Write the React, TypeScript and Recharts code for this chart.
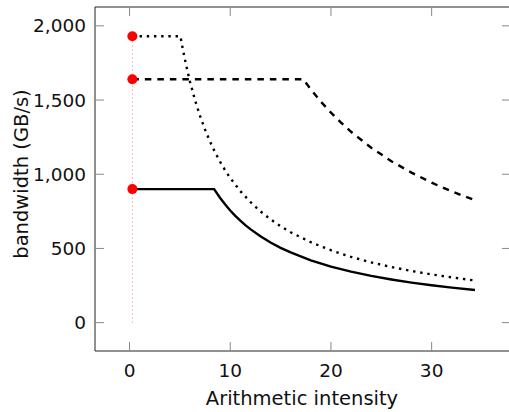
import { ComposedChart, Line, XAxis, YAxis, ReferenceArea } from "recharts";

// Roofline-style curves (x = arithmetic intensity, y = GB/s)
const solidX = [0.28, 8.4, 8.7, 9, 9.5, 10, 10.5, 11, 11.5, 12, 13, 14, 15, 16, 18, 20, 22, 24, 26, 28, 30, 32, 34.3];
const solidY = [900, 900, 869, 840, 796, 756, 720, 687, 657, 630, 582, 540, 504, 473, 420, 378, 344, 315, 291, 270, 252, 236, 220];

const dottedX = [0.28, 5.05, 5.3, 5.6, 6, 6.5, 7, 7.5, 8, 8.5, 9, 9.5, 10, 11, 12, 13, 14, 15, 16, 18, 20, 22, 24, 26, 28, 30, 32, 34.3];
const dottedY = [1930, 1930, 1840, 1741, 1625, 1500, 1393, 1300, 1219, 1147, 1083, 1026, 975, 886, 813, 750, 696, 650, 609, 542, 488, 443, 406, 375, 348, 325, 305, 284];

const dashedX = [0.28, 17.25, 17.6, 18, 18.5, 19, 20, 21, 22, 24, 26, 28, 30, 32, 34.3];
const dashedY = [1640, 1640, 1608, 1572, 1530, 1489, 1415, 1348, 1286, 1179, 1088, 1011, 943, 884, 825];

const peakX = 0.28;
const peakY = [900, 1640, 1930];

const xTicks = [0, 10, 20, 30];
const yTicks = [0, 500, 1000, 1500, 2000];
const X_DOMAIN = [-3.43, 37.88];
const Y_DOMAIN = [-191, 2127];

const PLOT_TOP = 7;
const PLOT_BOTTOM = 351;
const PLOT_LEFT = 95;
const PLOT_RIGHT = 511;
const TICK_LEN = 9;
const FONT = "'DejaVu Sans', sans-serif";
const TEXT = "#111";

const zip = (xs: number[], ys: number[]) => xs.map((x, i) => ({ x, y: ys[i] }));

const solid = zip(solidX, solidY);
const dotted = zip(dottedX, dottedY);
const dashed = zip(dashedX, dashedY);
const guide = [
  { x: peakX, y: 0 },
  { x: peakX, y: Math.max(...peakY) },
];
const peaks = peakY.map((y) => ({ x: peakX, y }));

function XTick({ x, payload }: any) {
  return (
    <g>
      <line x1={x} x2={x} y1={PLOT_BOTTOM} y2={PLOT_BOTTOM - TICK_LEN} stroke="#888" />
      <line x1={x} x2={x} y1={PLOT_TOP} y2={PLOT_TOP + TICK_LEN} stroke="#888" />
      <text x={x} y={PLOT_BOTTOM + 26} textAnchor="middle" fontFamily={FONT} fontSize={18.5} fill={TEXT}>
        {payload.value}
      </text>
    </g>
  );
}

function YTick({ y, payload }: any) {
  return (
    <g>
      <line x1={PLOT_LEFT} x2={PLOT_LEFT + TICK_LEN} y1={y} y2={y} stroke="#888" />
      <line x1={PLOT_RIGHT - TICK_LEN} x2={PLOT_RIGHT} y1={y} y2={y} stroke="#888" />
      <text x={PLOT_LEFT - 9} y={y + 6.5} textAnchor="end" fontFamily={FONT} fontSize={18.5} fill={TEXT}>
        {payload.value.toLocaleString("en-US")}
      </text>
    </g>
  );
}

export default function App() {
  return (
    <div style={{ width: 509, height: 412, overflow: "hidden" }}>
      <style>{"body{margin:0}"}</style>
      <ComposedChart width={PLOT_RIGHT} height={412} margin={{ top: PLOT_TOP, right: 0, bottom: 0, left: 20 }}>
        <XAxis
          dataKey="x"
          type="number"
          domain={X_DOMAIN}
          ticks={xTicks}
          allowDataOverflow
          height={412 - PLOT_BOTTOM}
          axisLine={false}
          tickLine={false}
          tick={<XTick />}
          label={() => (
            <text x={302} y={405} textAnchor="middle" fontFamily={FONT} fontSize={19.5} fill={TEXT}>
              Arithmetic intensity
            </text>
          )}
        />
        <YAxis
          dataKey="y"
          type="number"
          domain={Y_DOMAIN}
          ticks={yTicks}
          allowDataOverflow
          width={PLOT_LEFT - 20}
          axisLine={false}
          tickLine={false}
          tick={<YTick />}
          label={() => (
            <text
              transform="translate(28,174) rotate(-90)"
              textAnchor="middle"
              fontFamily={FONT}
              fontSize={19.5}
              fill={TEXT}
            >
              bandwidth (GB/s)
            </text>
          )}
        />
        <ReferenceArea
          x1={X_DOMAIN[0]}
          x2={X_DOMAIN[1]}
          y1={Y_DOMAIN[0]}
          y2={Y_DOMAIN[1]}
          fill="none"
          stroke="#222"
          strokeWidth={1}
          ifOverflow="visible"
        />
        <Line data={solid} dataKey="y" stroke="#000" strokeWidth={2.4} dot={false} isAnimationActive={false} />
        <Line
          data={dotted}
          dataKey="y"
          stroke="#000"
          strokeWidth={2.4}
          strokeDasharray="2.4 4.8"
          dot={false}
          isAnimationActive={false}
        />
        <Line
          data={dashed}
          dataKey="y"
          stroke="#000"
          strokeWidth={2.4}
          strokeDasharray="6.5 6"
          dot={false}
          isAnimationActive={false}
        />
        <Line
          data={guide}
          dataKey="y"
          stroke="#ff5050"
          strokeWidth={0.8}
          strokeDasharray="1 3"
          dot={false}
          isAnimationActive={false}
        />
        <Line
          data={peaks}
          dataKey="y"
          stroke="none"
          dot={{ r: 5, fill: "#ff0000", stroke: "none" }}
          isAnimationActive={false}
        />
      </ComposedChart>
    </div>
  );
}
